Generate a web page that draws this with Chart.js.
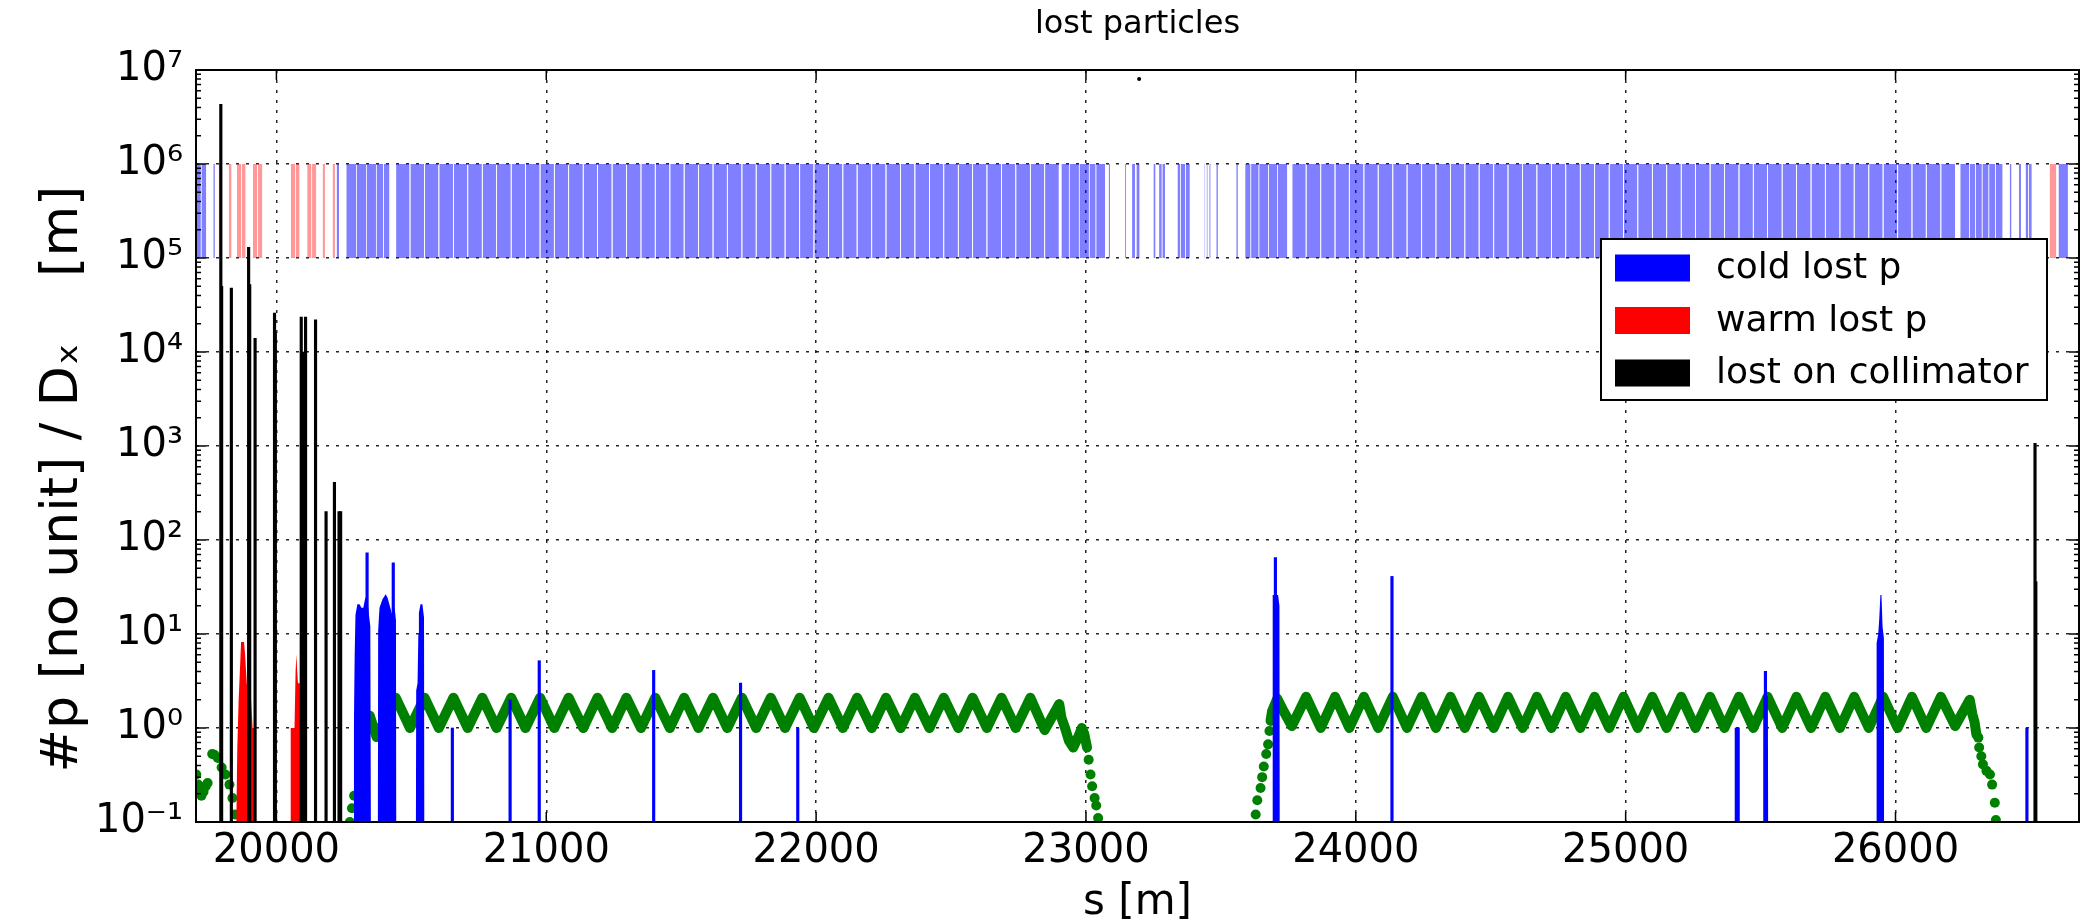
<!DOCTYPE html>
<html>
<head>
<meta charset="utf-8">
<script src="https://cdn.jsdelivr.net/npm/chart.js@4/dist/chart.umd.min.js"></script>
<style>
  html, body { margin: 0; padding: 0; background: #ffffff; }
  #wrap { width: 2084px; height: 924px; }
</style>
</head>
<body>
<div id="wrap"><canvas id="c" width="2084" height="924"></canvas></div>
<script>
const FONT = "'DejaVu Sans', 'Liberation Sans', sans-serif";

// ---------- texts ----------
const titleText = 'lost particles';
const xTitle = 's [m]';
const yTitle = '#p [no unit] / Dₓ    [m]    ';
const legendLabels = ['cold lost p', 'warm lost p', 'lost on collimator'];

// ---------- axes ----------
const xMin = 19702, xMax = 26680;
const yMin = 0.1, yMax = 1e7;
const xTickValues = [20000, 21000, 22000, 23000, 24000, 25000, 26000];
const yTickValues = [1e-1, 1e0, 1e1, 1e2, 1e3, 1e4, 1e5, 1e6, 1e7];
const yTickLabels = ['10⁻¹', '10⁰', '10¹', '10²', '10³', '10⁴', '10⁵', '10⁶', '10⁷'];

// ---------- magnet band (drawn between bandBottom and bandTop) ----------
const bandBottom = 1e5, bandTop = 1e6;
const coldMagnets = [
  [19702,19720],[19722,19740],[19766,19772],[20223,20232],
  [20259,20295],[20297,20332],[20334,20369],[20371,20396],[20398,20419],
  [22909,22937],[22939,22974],[22976,23011],[23013,23036],[23038,23071],
  [23084,23089],[23145,23149],[23171,23182],[23187,23199],[23250,23258],
  [23271,23281],[23283,23293],[23339,23350],[23352,23368],[23370,23385],
  [23439,23442],[23447,23451],[23457,23462],[23483,23489],[23557,23563],
  [23590,23610],[23612,23640],[23642,23675],[23677,23708],[23710,23746],
  [26240,26274],[26276,26296],[26298,26320],[26322,26345],[26347,26370],[26372,26397],
  [26423,26430],[26457,26465],[26482,26492],[26494,26505],[26604,26639]
];
const arc1Quads = [20442,20495,20549,20602,20656,20709,20763,20816,20870,20923,20977,21030,
  21083,21137,21190,21244,21297,21351,21404,21458,21511,21564,21618,21671,21725,21778,21832,
  21885,21939,21992,22046,22099,22152,22206,22259,22313,22366,22420,22473,22527,22580,22633,
  22687,22740,22794,22847,22901];
const arc2Quads = [23763,23816,23870,23923,23976,24030,24083,24137,24190,24244,24297,24351,
  24404,24457,24511,24564,24618,24671,24725,24778,24832,24885,24939,24992,25045,25099,25152,
  25206,25259,25313,25366,25420,25473,25526,25580,25633,25687,25740,25794,25847,25901,25954,
  26008,26061,26114,26168,26222];
const warmMagnets = [
  [19786,19793],[19823,19834],[19854,19869],[19871,19886],[19913,19929],[19931,19948],
  [20053,20069],[20071,20086],[20114,20130],[20132,20148],[20171,20180],[20208,20217],
  [26571,26596]
];

// ---------- losses ----------
const collimatorS = [19794,19797,19833,19897,19901,19921,19993,19996,20092,20098,20108,20145,20184,20215,20232,20238,26517,26520];
const collimatorN = [4.3e6,5.0e4,4.8e4,1.3e5,5.2e4,1.4e4,2.6e4,1.6e4,2.35e4,1.0e4,2.35e4,2.2e4,200,410,200,200,1070,36];
const collimatorDotS = [23197];
const collimatorDotN = [8e6];

const coldSpikeS = [20336,20433,20652,20866,20974,21398,21720,21932,23702,24134,25410,25417,25518,26487];
const coldSpikeN = [73,57,1.0,2.0,5.2,4.1,3.0,1.0,65,41,1.0,1.0,4.0,1.0];

const coldClusterS = [20286,20287,20290,20293,20300,20308,20315,20322,20329,20336,20343,20348,20350,
  20376,20377,20382,20393,20405,20412,20422,20429,20435,20439,20443,20444,
  20517,20518,20523,20526,20528,20534,20541,20547,20548,
  23691,23692,23712,23717,23718,
  25509,25510,25527,25528,
  25929,25930,25936,25940,25944,25948,25952,25957,25958];
const coldClusterN = [0.1,1.0,6,16,20.7,20.7,19,19,24,25,16,12,0.1,
  0.1,10.8,19,23.4,26.5,24.3,19,16,20,18,14,0.1,
  0.1,2.5,3.0,10,16.8,20.7,20.7,15,0.1,
  0.1,26,26,20,0.1,
  0.1,2.2,2.2,0.1,
  0.1,8,10,15,26,26,12,9,0.1];

const warmLossS = [19851,19855,19860,19866,19869,19880,19884,19890,19900,19906,19912,19918,19919,
  20052,20053,20067,20071,20074,20077,20080,20087,20088];
const warmLossN = [0.1,0.6,2,5,8.2,8.2,6,3,2.2,2.0,1.0,1.0,0.1,
  0.1,1.0,1.0,4,6.1,4,3.0,3.0,0.1];

// ---------- dispersion D_x ----------
const dxArc1S = [20346,20371,20442,20495,20549,20602,20656,20709,20763,20816,20870,20923,20977,21030,
  21083,21137,21190,21244,21297,21351,21404,21458,21511,21564,21618,21671,21725,21778,21832,
  21885,21939,21992,22046,22099,22152,22206,22259,22313,22366,22420,22473,22527,22580,22633,
  22687,22740,22794,22847,22901,22909,22924,22937,22953,22970,22985,22994,23004];
const dxArc1V = [1.35,0.8,2.1,1.0,2.1,1.0,2.1,1.0,2.1,1.0,2.1,1.0,2.1,1.0,
  2.1,1.0,2.1,1.0,2.1,1.0,2.1,1.0,2.1,1.0,2.1,1.0,2.1,1.0,2.1,
  1.0,2.1,1.0,2.1,1.0,2.1,1.0,2.1,1.0,2.1,1.0,2.1,1.0,2.1,1.0,
  2.1,1.0,2.1,0.95,1.8,1.29,0.97,0.73,0.62,0.79,1.0,0.86,0.62];
const dxArc2S = [23684,23690,23709,23733,23763,23816,23870,23923,23976,24030,24083,24137,24190,24244,
  24297,24351,24404,24457,24511,24564,24618,24671,24725,24778,24832,24885,24939,24992,25045,
  25099,25152,25206,25259,25313,25366,25420,25473,25526,25580,25633,25687,25740,25794,25847,
  25901,25954,26008,26061,26114,26168,26221,26275,26285,26293,26300];
const dxArc2V = [1.19,1.52,2.05,1.5,1.05,2.15,1.0,2.15,1.0,2.15,1.0,2.15,1.0,2.15,
  1.0,2.15,1.0,2.15,1.0,2.15,1.0,2.15,1.0,2.15,1.0,2.15,1.0,2.15,1.0,
  2.15,1.0,2.15,1.0,2.15,1.0,2.15,1.0,2.15,1.0,2.15,1.0,2.15,1.0,2.15,
  1.0,2.15,1.0,2.15,1.0,2.15,1.05,2.0,1.4,1.15,0.85];
const dxDotS = [19703,19710,19716,19722,19730,19738,19745,
  19762,19770,19783,19797,19811,19826,19837,19847,
  20272,20280,20288,
  23010,23017,23023,23032,23038,23045,
  23629,23635,23647,23653,23659,23668,23675,23680,
  26307,26310,26318,26324,26337,26350,26358,26368,26372];
const dxDotV = [0.32,0.25,0.21,0.19,0.21,0.24,0.26,
  0.53,0.52,0.48,0.38,0.32,0.25,0.18,0.12,
  0.1,0.14,0.19,
  0.46,0.32,0.24,0.18,0.15,0.11,
  0.12,0.17,0.23,0.30,0.39,0.53,0.67,0.93,
  0.79,0.62,0.5,0.41,0.35,0.32,0.25,0.16,0.105];

// ---------- colours ----------
const COLD = '#0000ff', WARM = '#ff0000', COLL = '#000000', DXC = '#008000';
const COLD_BAND = 'rgba(0,0,255,0.5)', WARM_BAND = 'rgba(255,0,0,0.4)';

// ---------- helpers ----------
const pairs = (s, v) => s.map((x, i) => ({x, y: v[i]}));
function quadIntervals(quads, gap) {
  const out = [];
  for (let i = 0; i < quads.length - 1; i++) out.push([quads[i] + gap, quads[i + 1] - gap]);
  return out;
}
function intervalsToPoints(list, top) {
  const pts = [];
  list.slice().sort((p, q) => p[0] - q[0]).forEach(([s0, s1]) => {
    pts.push({x: s0, y: top}, {x: s1, y: top}, {x: s1, y: null});
  });
  return pts;
}

const coldBandPts = intervalsToPoints(
  coldMagnets.concat(quadIntervals(arc1Quads, 1.5), quadIntervals(arc2Quads, 1.5)), bandTop);
const warmBandPts = intervalsToPoints(warmMagnets, bandTop);

const datasets = [
  { type: 'line', label: 'cold magnets', data: coldBandPts, order: 6,
    borderColor: 'rgba(0,0,0,0)', borderWidth: 0, pointRadius: 0, spanGaps: false,
    backgroundColor: COLD_BAND, fill: {value: bandBottom}, tension: 0 },
  { type: 'line', label: 'warm magnets', data: warmBandPts, order: 6,
    borderColor: 'rgba(0,0,0,0)', borderWidth: 0, pointRadius: 0, spanGaps: false,
    backgroundColor: WARM_BAND, fill: {value: bandBottom}, tension: 0 },
  { type: 'line', label: 'Dx arc 1', data: pairs(dxArc1S, dxArc1V), order: 7,
    borderColor: DXC, borderWidth: 10, pointRadius: 0, fill: false, tension: 0,
    borderJoinStyle: 'round', borderCapStyle: 'round' },
  { type: 'line', label: 'Dx arc 2', data: pairs(dxArc2S, dxArc2V), order: 7,
    borderColor: DXC, borderWidth: 10, pointRadius: 0, fill: false, tension: 0,
    borderJoinStyle: 'round', borderCapStyle: 'round' },
  { type: 'line', label: 'Dx points', data: pairs(dxDotS, dxDotV), order: 7, showLine: false,
    pointRadius: 5, pointBorderWidth: 0, pointBackgroundColor: DXC, backgroundColor: DXC, borderColor: DXC },
  { type: 'line', label: 'warm lost p', data: pairs(warmLossS, warmLossN), order: 3,
    borderColor: 'rgba(0,0,0,0)', borderWidth: 0, pointRadius: 0, backgroundColor: WARM,
    fill: 'start', tension: 0, legendColor: WARM },
  { type: 'line', label: 'cold lost p', data: pairs(coldClusterS, coldClusterN), order: 2,
    borderColor: 'rgba(0,0,0,0)', borderWidth: 0, pointRadius: 0, backgroundColor: COLD,
    fill: 'start', tension: 0, legendColor: COLD },
  { type: 'bar', label: 'cold lost p spikes', data: pairs(coldSpikeS, coldSpikeN), order: 2,
    backgroundColor: COLD, barThickness: 2.5, grouped: false, borderWidth: 0 },
  { type: 'bar', label: 'lost on collimator', data: pairs(collimatorS, collimatorN), order: 1,
    backgroundColor: COLL, barThickness: 2.5, grouped: false, borderWidth: 0, legendColor: COLL },
  { type: 'line', label: 'collimator marker', data: pairs(collimatorDotS, collimatorDotN), order: 1,
    showLine: false, pointRadius: 2, pointBorderWidth: 0, pointBackgroundColor: COLL }
];

// ---------- frame, inward ticks and legend ----------
const decorPlugin = {
  id: 'decor',
  afterDatasetsDraw(chart) {
    const {ctx, chartArea: a, scales: {x, y}} = chart;
    ctx.save();
    ctx.strokeStyle = '#000';
    ctx.lineWidth = 1.5;
    ctx.beginPath();
    xTickValues.forEach(v => {
      const px = x.getPixelForValue(v);
      ctx.moveTo(px, a.bottom); ctx.lineTo(px, a.bottom - 10);
      ctx.moveTo(px, a.top); ctx.lineTo(px, a.top + 10);
    });
    const e0 = Math.round(Math.log10(yMin)), e1 = Math.round(Math.log10(yMax));
    for (let e = e0; e <= e1; e++) {
      for (let m = 1; m < 10; m++) {
        const v = m * Math.pow(10, e);
        if (v > yMax * 1.0001) break;
        const py = y.getPixelForValue(v);
        const len = m === 1 ? 10 : 5;
        ctx.moveTo(a.left, py); ctx.lineTo(a.left + len, py);
        ctx.moveTo(a.right, py); ctx.lineTo(a.right - len, py);
      }
    }
    ctx.stroke();
    ctx.lineWidth = 2;
    ctx.strokeRect(a.left, a.top, a.right - a.left, a.bottom - a.top);

    // legend box
    const bx = a.right - 478, by = a.top + 169, bw = 446, bh = 161;
    ctx.fillStyle = '#fff';
    ctx.fillRect(bx, by, bw, bh);
    ctx.lineWidth = 2;
    ctx.strokeRect(bx, by, bw, bh);
    ctx.font = '36px ' + FONT;
    ctx.textBaseline = 'middle';
    ctx.textAlign = 'left';
    legendLabels.forEach((lab, i) => {
      const ds = chart.data.datasets.find(d => d.label === lab);
      const cy = by + 29 + i * 52.5;
      ctx.fillStyle = ds.legendColor;
      ctx.fillRect(bx + 14, cy - 13.5, 75, 27);
      ctx.fillStyle = '#000';
      ctx.fillText(lab, bx + 115, cy + 1);
    });
    ctx.restore();
  }
};

Chart.defaults.font.family = FONT;
Chart.defaults.color = '#000';

new Chart(document.getElementById('c'), {
  type: 'line',
  data: { datasets },
  options: {
    responsive: false,
    animation: false,
    devicePixelRatio: 1,
    events: [],
    layout: { padding: { left: 0, right: 4, top: 0, bottom: 0 } },
    plugins: {
      legend: { display: false },
      tooltip: { enabled: false },
      title: {
        display: true, text: titleText, fullSize: false, color: '#000',
        font: { size: 32, weight: 'normal', lineHeight: 1.2 },
        padding: { top: 5, bottom: 26.6 }
      }
    },
    scales: {
      x: {
        type: 'linear', min: xMin, max: xMax, offset: false,
        afterBuildTicks: s => { s.ticks = xTickValues.map(v => ({value: v})); },
        afterFit: s => { s.height = 102; },
        ticks: { autoSkip: false, maxRotation: 0, minRotation: 0, padding: 6,
                 font: { size: 40 }, color: '#000', callback: v => String(v) },
        grid: { display: true, drawTicks: false, offset: false, color: 'rgba(0,0,0,0.85)', lineWidth: 1.5 },
        border: { display: false, dash: [3, 7] },
        title: { display: true, text: xTitle, color: '#000',
                 font: { size: 42, lineHeight: 1.0 }, padding: { top: 0, bottom: 0 } }
      },
      y: {
        type: 'logarithmic', min: yMin, max: yMax, beginAtZero: false,
        afterBuildTicks: s => { s.ticks = yTickValues.map(v => ({value: v})); },
        afterFit: s => { s.width = 196; },
        ticks: { autoSkip: false, padding: 13, font: { size: 40 }, color: '#000',
                 callback: v => {
                   const i = yTickValues.findIndex(t => Math.abs(t - v) / t < 1e-6);
                   return i >= 0 ? yTickLabels[i] : '';
                 } },
        grid: { display: true, drawTicks: false, color: 'rgba(0,0,0,0.85)', lineWidth: 1.5 },
        border: { display: false, dash: [3, 7] },
        title: { display: true, text: yTitle, color: '#000',
                 font: { size: 52, lineHeight: 1.0 }, padding: { top: 37, bottom: 0 } }
      }
    }
  },
  plugins: [decorPlugin]
});
</script>
</body>
</html>
